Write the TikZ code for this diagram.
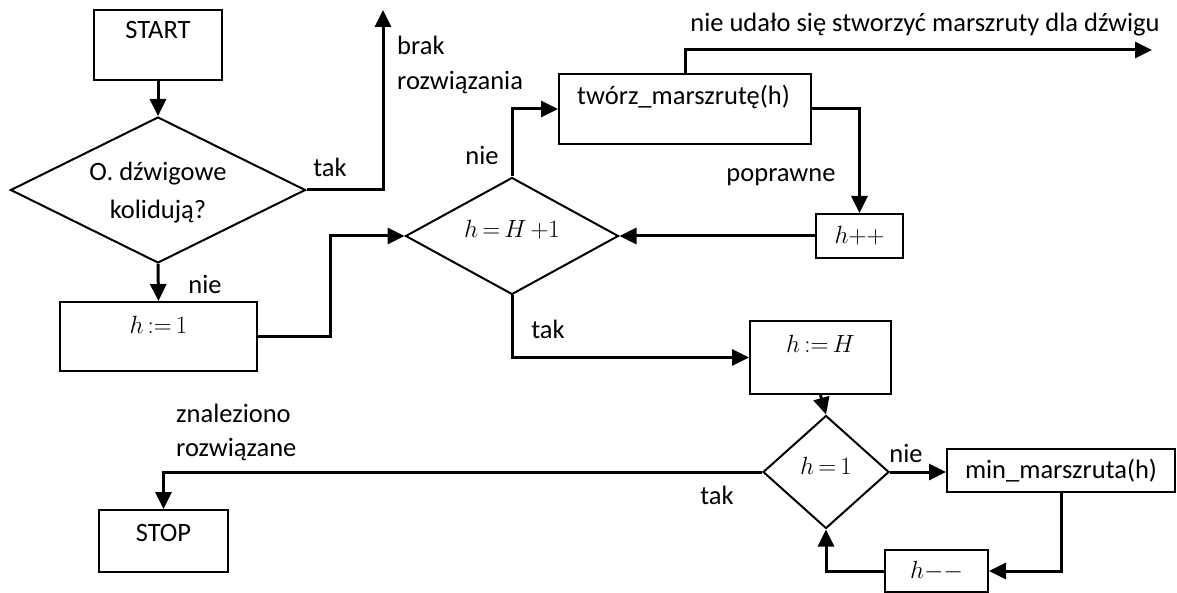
\documentclass[tikz,border=0pt]{standalone}
\usepackage{fontspec}
\setmainfont{Carlito}
\usetikzlibrary{arrows.meta,shapes.geometric}
\tikzset{
  every node/.style={font=\fontsize{26.5}{31}\selectfont},
  box/.style={draw, line width=2pt, inner sep=0pt, fill=none},
  dia/.style={draw, diamond, line width=2pt, inner sep=0pt},
  conn/.style={line width=3pt, -{Triangle[length=17pt,width=16pt]}},
  lbl/.style={inner sep=0pt},
  mth/.style={inner sep=0pt, font=\fontsize{28}{32}\selectfont},
}
\begin{document}
\begin{tikzpicture}[x=1pt,y=-1pt]
\useasboundingbox (0,0) rectangle (1177,593);
% boxes
\node[box, minimum width=128pt, minimum height=70pt] (start) at (158,45) {};
\node[lbl] (starttxt) at (158,30) {START};
\node[dia, minimum width=295pt, minimum height=146pt] (d1) at (158,190) {};
\node[lbl] (d1a) at (158,174) {O. dźwigowe};
\node[lbl] (d1b) at (158,212) {kolidują?};
\node[box, minimum width=197pt, minimum height=69pt] (h1) at (158.5,336.5) {};
\node[mth] (h1txt) at (158.5,325) {$h\,{:=}\,1$};
\node[dia, minimum width=213pt, minimum height=117pt] (d2) at (512,236) {};
\node[mth] (d2txt) at (512,230) {$h\,{=}\,H\,{+}1$};
\node[box, minimum width=252pt, minimum height=70pt] (tw) at (685,109) {};
\node[lbl, anchor=west] (twtxt) at (577,97) {twórz\_marszrutę(h)};
\node[box, minimum width=87pt, minimum height=44pt] (hpp) at (859.5,236) {};
\node[mth] (hpptxt) at (859.5,236) {$h{+}{+}$};
\node[box, minimum width=141pt, minimum height=73pt] (hH) at (820.5,357.5) {};
\node[mth] (hHtxt) at (820.5,344) {$h\,{:=}\,H$};
\node[dia, minimum width=126pt, minimum height=113pt] (d3) at (826,472) {};
\node[mth] (d3txt) at (826,466) {$h\,{=}\,1$};
\node[box, minimum width=129pt, minimum height=62pt] (stop) at (163.5,541) {};
\node[lbl] (stoptxt) at (163.5,533) {STOP};
\node[box, minimum width=228pt, minimum height=43pt] (min) at (1061,470.5) {};
\node[lbl] (mintxt) at (1061,470.5) {min\_marszruta(h)};
\node[box, minimum width=103pt, minimum height=42pt] (hmm) at (936.5,571) {};
\node[mth] (hmmtxt) at (936.5,571) {$h{-}{-}$};
% free ends
\coordinate (brak) at (383,10);
\coordinate (fail) at (1152,50);
% connectors
\draw[conn] (start.south) -- (d1.north);
\draw[conn] (d1.east) -| (brak);
\draw[conn] (d1.south) -- (h1.north);
\draw[conn] (h1.east) -- (330,336.5) |- (d2.west);
\draw[conn] (d2.north) |- (tw.west);
\draw[conn] (tw.north) |- (fail);
\draw[conn] (tw.east) -| (hpp.north);
\draw[conn] (hpp.west) -- (d2.east);
\draw[conn] (d2.south) |- (hH.west);
\draw[conn] (hH.south) -- (d3.north);
\draw[conn] (d3.west) -| (stop.north);
\draw[conn] (d3.east) -- (d3.east -| min.west);
\draw[conn] (min.south) |- (hmm.east);
\draw[conn] (hmm.west) -| (d3.south);
% labels
\node[lbl] (l1) at (330,167) {tak};
\node[lbl, anchor=west] (l2) at (397,45) {brak};
\node[lbl, anchor=west] (l3) at (397,83) {rozwiązania};
\node[lbl] (l4) at (205,284) {nie};
\node[lbl] (l5) at (482,155) {nie};
\node[lbl] (l6) at (925,25) {nie udało się stworzyć marszruty dla dźwigu};
\node[lbl] (l7) at (781,177) {poprawne};
\node[lbl] (l8) at (548,329) {tak};
\node[lbl] (l9) at (717,495) {tak};
\node[lbl] (l10) at (906,453) {nie};
\node[lbl, anchor=west] (l11) at (176,413) {znaleziono};
\node[lbl, anchor=west] (l12) at (176,450) {rozwiązane};
\end{tikzpicture}
\end{document}
